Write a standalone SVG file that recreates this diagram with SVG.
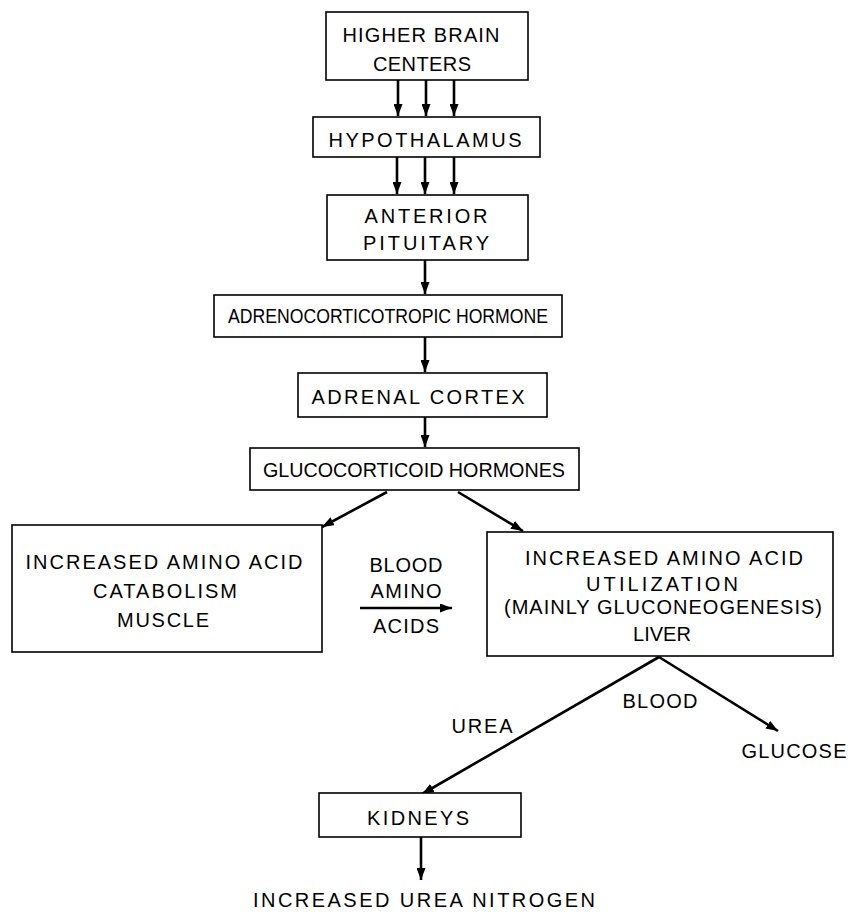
<svg xmlns="http://www.w3.org/2000/svg" width="850" height="912" viewBox="0 0 850 912">
<defs>
<marker id="ah" markerWidth="12" markerHeight="9" refX="12" refY="4.5" orient="auto" markerUnits="userSpaceOnUse">
<path d="M0,0 L12,4.5 L0,9 Z" fill="#000"/>
</marker>
<style>
.box{fill:#fff;stroke:#000;stroke-width:1.6}
.t{font-family:"Liberation Sans",Arial,sans-serif;font-size:20px;fill:#000;text-anchor:middle}
.c{stroke:#000;stroke-width:2.6;fill:none;marker-end:url(#ah)}
</style>
</defs>
<rect width="850" height="912" fill="#fff"/>
<g id="connectors">
<line class="c" x1="398" y1="80" x2="398" y2="116"/>
<line class="c" x1="426" y1="80" x2="426" y2="116"/>
<line class="c" x1="454" y1="80" x2="454" y2="116"/>
<line class="c" x1="397" y1="157" x2="397" y2="194"/>
<line class="c" x1="425" y1="157" x2="425" y2="194"/>
<line class="c" x1="454" y1="157" x2="454" y2="194"/>
<line class="c" x1="425" y1="260" x2="425" y2="294"/>
<line class="c" x1="425" y1="337" x2="425" y2="372"/>
<line class="c" x1="425" y1="417" x2="425" y2="447"/>
<line class="c" x1="387" y1="492" x2="322" y2="527"/>
<line class="c" x1="458" y1="492" x2="523" y2="531"/>
<line class="c" x1="360" y1="608" x2="452" y2="608"/>
<line class="c" x1="659" y1="657" x2="422" y2="794"/>
<line class="c" x1="659" y1="657" x2="778" y2="731"/>
<line class="c" x1="421" y1="837" x2="421" y2="880"/>
</g>
<g id="n1"><rect class="box" x="326" y="12" width="202" height="68"/>
<text class="t" x="421" y="42" textLength="157" lengthAdjust="spacing">HIGHER BRAIN</text>
<text class="t" x="422" y="71" textLength="98" lengthAdjust="spacing">CENTERS</text></g>
<g id="n2"><rect class="box" x="313" y="117" width="227" height="40"/>
<text class="t" x="425" y="147" textLength="193" lengthAdjust="spacing">HYPOTHALAMUS</text></g>
<g id="n3"><rect class="box" x="327" y="195" width="201" height="65"/>
<text class="t" x="426" y="223" textLength="123" lengthAdjust="spacing">ANTERIOR</text>
<text class="t" x="426" y="250" textLength="126" lengthAdjust="spacing">PITUITARY</text></g>
<g id="n4"><rect class="box" x="214" y="295" width="348" height="42"/>
<text class="t" x="388" y="323" textLength="320" lengthAdjust="spacingAndGlyphs">ADRENOCORTICOTROPIC HORMONE</text></g>
<g id="n5"><rect class="box" x="298" y="373" width="249" height="44"/>
<text class="t" x="418" y="404" textLength="213" lengthAdjust="spacing">ADRENAL CORTEX</text></g>
<g id="n6"><rect class="box" x="250" y="448" width="329" height="42"/>
<text class="t" x="414" y="477" textLength="302" lengthAdjust="spacingAndGlyphs">GLUCOCORTICOID HORMONES</text></g>
<g id="n7"><rect class="box" x="12" y="525" width="310" height="127"/>
<text class="t" x="164" y="569" textLength="277" lengthAdjust="spacing">INCREASED AMINO ACID</text>
<text class="t" x="165" y="598" textLength="144" lengthAdjust="spacing">CATABOLISM</text>
<text class="t" x="163" y="627" textLength="92" lengthAdjust="spacing">MUSCLE</text></g>
<g id="lbl-blood-amino">
<text class="t" x="406" y="572" textLength="73" lengthAdjust="spacing">BLOOD</text>
<text class="t" x="406" y="598" textLength="71" lengthAdjust="spacing">AMINO</text>
<text class="t" x="406" y="633" textLength="66" lengthAdjust="spacing">ACIDS</text></g>
<g id="n8"><rect class="box" x="487" y="532" width="346" height="124"/>
<text class="t" x="664" y="565" textLength="278" lengthAdjust="spacing">INCREASED AMINO ACID</text>
<text class="t" x="662" y="591" textLength="152" lengthAdjust="spacing">UTILIZATION</text>
<text class="t" x="663" y="614" textLength="318" lengthAdjust="spacing">(MAINLY GLUCONEOGENESIS)</text>
<text class="t" x="662" y="641">LIVER</text></g>
<g id="lbl-blood"><text class="t" x="660" y="708" textLength="75" lengthAdjust="spacing">BLOOD</text></g>
<g id="lbl-urea"><text class="t" x="482" y="733" textLength="61" lengthAdjust="spacing">UREA</text></g>
<g id="n-glucose"><text class="t" x="794" y="758" textLength="105" lengthAdjust="spacing">GLUCOSE</text></g>
<g id="n9"><rect class="box" x="319" y="793" width="202" height="44"/>
<text class="t" x="418" y="825" textLength="102" lengthAdjust="spacing">KIDNEYS</text></g>
<g id="n10"><text class="t" x="424" y="907" textLength="342" lengthAdjust="spacing">INCREASED UREA NITROGEN</text></g>
</svg>
